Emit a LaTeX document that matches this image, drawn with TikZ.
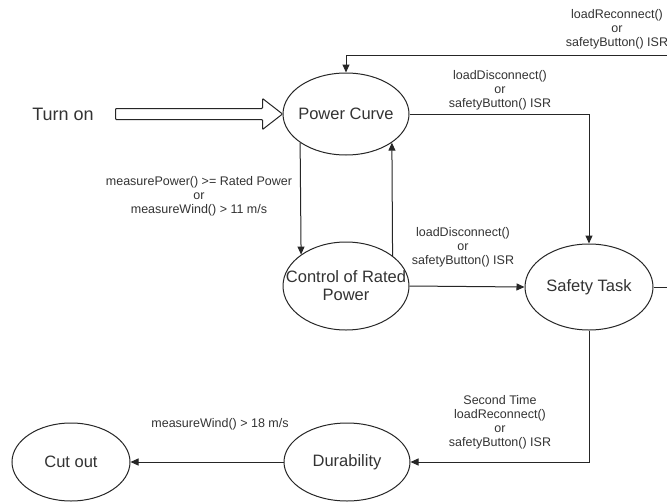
\documentclass[tikz,border=0pt]{standalone}
\usepackage{fontspec}
\setmainfont{Liberation Sans}
\usetikzlibrary{shapes.geometric,arrows.meta}
\begin{document}
\begin{tikzpicture}[x=1pt,y=-1pt,
  state/.style={ellipse,draw=black!85,line width=1pt,inner sep=0pt},
  stxt/.style={font=\fontsize{16.5}{18}\selectfont,text=black!80,align=center},
  lbl/.style={font=\fontsize{12.5}{14}\selectfont,text=black!80,align=center,inner sep=0pt},
  conn/.style={draw=black!85,line width=1pt},
  arr/.style={conn,-{Triangle[length=8pt,width=7pt]}}]
\useasboundingbox[fill=white] (0,0) rectangle (667,501);

% states
\node[state,minimum width=126pt,minimum height=82pt,label={[stxt]center:Power Curve}] (pc) at (346,114) {};
\node[state,minimum width=126pt,minimum height=88pt,label={[stxt]center:Control of Rated\\Power}] (crp) at (346,286) {};
\node[state,minimum width=128pt,minimum height=86pt,label={[stxt]center:Safety Task}] (st) at (589,287) {};
\node[state,minimum width=126pt,minimum height=78pt,label={[stxt]center:Durability}] (dur) at (347,462) {};
\node[state,minimum width=118pt,minimum height=78pt,label={[stxt]center:Cut out}] (co) at (71,462) {};

% turn on
\node[font=\fontsize{18}{20}\selectfont,text=black!80] (ton) at (63,114) {Turn on};
\coordinate (tip) at (pc.west);
\draw[draw=black!85,line width=1pt,fill=white,rounded corners=0.8pt]
  (tip) -- ++(-20,-15.5) -- ++(0,10) -- ++(-147,0) -- ++(0,11) -- ++(147,0) -- ++(0,10) -- cycle;

% connectors
\draw[arr] (pc.212.5) -- (crp.145.6);
\draw[arr] (crp.33.2) -- (pc.328.7);
\draw[arr] (pc.east) -| (st.north);
\draw[arr] (crp.east) -- (st.west);
\coordinate (er) at (667,287);
\draw[conn] (st.east) -- (er);
\coordinate (et) at (667,55);
\draw[arr] (et) -| (pc.north);
\draw[arr] (st.south) |- (dur.east);
\draw[arr] (dur.west) -- (co.east);

% labels
\node[lbl] (l1) at (617,29) {loadReconnect()\\or\\safetyButton() ISR};
\node[lbl] (l2) at (500,90) {loadDisconnect()\\or\\safetyButton() ISR};
\node[lbl] (l3) at (199,196) {measurePower() >= Rated Power\\or\\measureWind() > 11 m/s};
\node[lbl] (l4) at (463,247) {loadDisconnect()\\or\\safetyButton() ISR};
\node[lbl] (l5) at (220,424) {measureWind() > 18 m/s};
\node[lbl] (l6) at (500,422) {Second Time\\loadReconnect()\\or\\safetyButton() ISR};
\end{tikzpicture}
\end{document}
